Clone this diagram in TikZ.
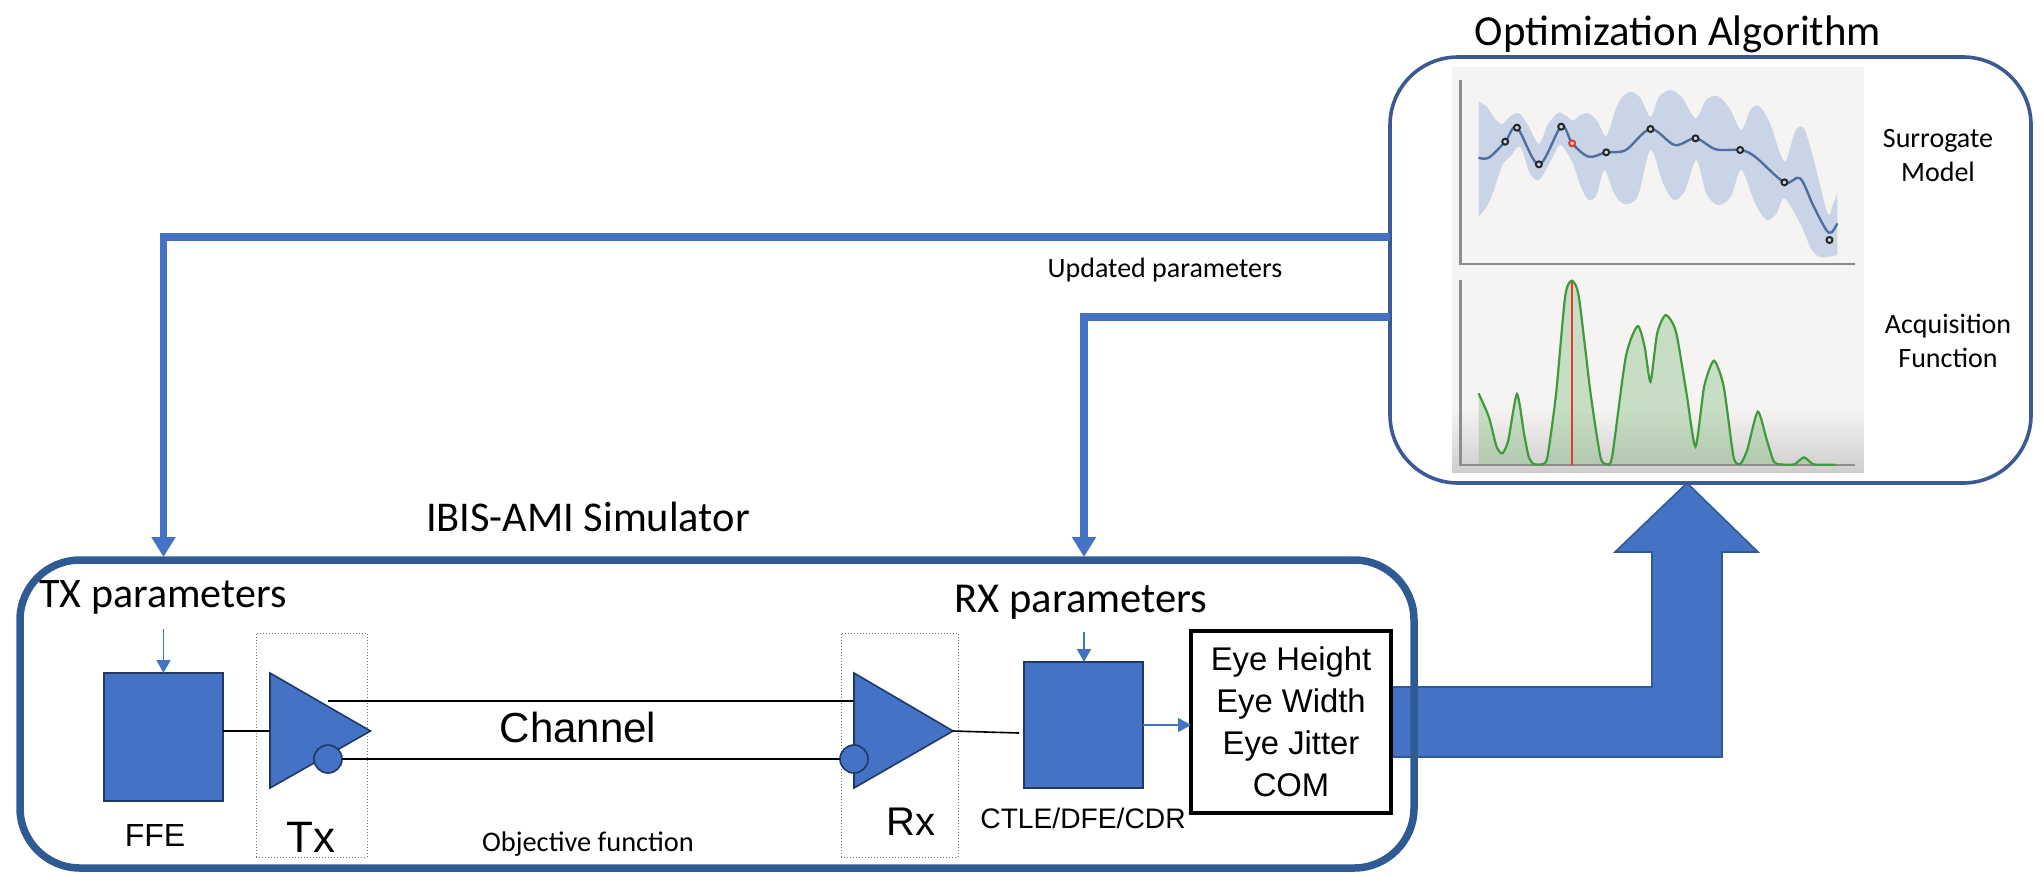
\documentclass[tikz,border=0pt]{standalone}
\usepackage{fontspec}
\setmainfont{Carlito}
\newfontfamily\arialf{Liberation Sans}
\usetikzlibrary{arrows.meta}
\definecolor{mblue}{HTML}{4472C4}
\definecolor{simedge}{HTML}{2F5A93}
\definecolor{optedge}{HTML}{3A5A94}
\definecolor{darkedge}{HTML}{1F3864}
\definecolor{panelbg}{HTML}{F5F4F3}
\definecolor{panelend}{HTML}{CFCECD}
\definecolor{axisgray}{HTML}{8C8C8C}
\definecolor{bandblue}{HTML}{C9D5E6}
\definecolor{meanblue}{HTML}{4F6F9F}
\definecolor{curvegreen}{HTML}{3E9A3C}
\definecolor{fillgreen}{HTML}{7DBB7A}
\definecolor{markred}{HTML}{E23B2E}
\def\acqcurve{(124,400) (150,470) (170,560) (185,580) (200,540) (222,402) (240,520) (252,590) (265,612) (288,612) (300,590) (322,400) (345,110) (362,62) (380,110) (410,400) (435,590) (450,612) (465,590) (500,290) (530,198) (548,260) (563,365) (580,220) (602,165) (628,215) (655,400) (678,560) (700,380) (725,302) (750,380) (775,590) (792,612) (810,570) (837,455) (860,540) (878,605) (895,613) (930,613) (955,592) (980,613) (1035,614)}
\tikzset{
  x=0.5pt,y=-0.5pt,
  lab/.style={inner sep=0pt,outer sep=0pt,anchor=base,text=black},
  cal/.style={lab,font=\fontsize{#1}{#1}\selectfont},
  ari/.style={lab,font=\arialf\fontsize{#1}{#1}\selectfont},
  bigbox/.style={draw=simedge,line width=3.75pt,rounded corners=30pt,inner sep=0pt,outer sep=0pt,anchor=north west},
  optbox/.style={draw=optedge,line width=1.8pt,rounded corners=34pt,inner sep=0pt,outer sep=0pt,anchor=north west},
  block/.style={draw=darkedge,line width=1pt,fill=mblue,inner sep=0pt,outer sep=0pt,anchor=north west},
  dotbox/.style={draw=black!55,line width=0.5pt,densely dotted,inner sep=0pt,outer sep=0pt,anchor=north west},
  amp/.style={draw=darkedge,line width=0.8pt,fill=mblue,line join=miter},
  bubble/.style={circle,draw=darkedge,line width=0.8pt,fill=mblue,minimum size=14pt,inner sep=0pt,outer sep=0pt},
  feed/.style={draw=mblue,line width=3.75pt,-{Triangle[width=11.5pt,length=10pt]}},
  thinarrow/.style={draw=mblue,line width=0.8pt,-{Triangle[width=7pt,length=6.5pt]}},
  wire/.style={draw=black,line width=0.8pt},
  axisline/.style={draw=axisgray,line width=1.3pt},
  samplept/.style={draw=black!85,line width=1pt,fill=bandblue},
}
\begin{document}
\begin{tikzpicture}
\useasboundingbox (0,0) rectangle (2044,874);

% optimisation panel background
\node[optbox,fill=white,minimum width=320.5pt,minimum height=213pt] (opt) at (1390,57) {};
\node[inner sep=0pt,outer sep=0pt,anchor=north west,fill=panelbg,minimum width=206pt,minimum height=203pt] (panel) at (1452,67) {};
\foreach \i in {0,...,31} {
  \pgfmathsetmacro{\pct}{100*(\i+1)/32}
  \pgfmathsetmacro{\ytop}{410+2*\i}
  \fill[panelend!\pct!panelbg] (1452,\ytop) rectangle (1864,473);
}

% surrogate plot, in crop coordinates
\begin{scope}[shift={(1430,50)},x=0.1958pt,y=-0.16667pt]
  \fill[bandblue] plot[smooth,tension=0.5] coordinates {(124,155) (145,170) (165,205) (185,222) (205,198) (228,190) (250,225) (278,282) (300,225) (328,188) (348,198) (365,212) (385,195) (405,190) (428,215) (450,258) (475,175) (492,140) (515,125) (538,145) (563,200) (585,140) (615,120) (645,145) (678,205) (705,150) (735,138) (765,175) (795,240) (818,180) (840,168) (868,220) (905,335) (932,245) (955,235) (980,330) (1015,490) (1030,460) (1040,430)}
    -- plot[smooth,tension=0.5] coordinates {(1040,615) (1000,622) (975,600) (945,520) (905,445) (885,490) (860,510) (830,460) (795,360) (768,440) (735,465) (705,430) (680,330) (650,425) (622,450) (595,400) (563,300) (530,440) (495,462) (470,430) (445,360) (425,435) (405,450) (385,410) (365,340) (345,300) (330,285) (305,340) (278,390) (255,370) (230,290) (205,320) (185,345) (160,430) (145,470) (124,500)} -- cycle;
  \draw[meanblue,line width=1.2pt] plot[smooth,tension=0.55] coordinates {(124,323) (150,323) (192,275) (222,233) (278,343) (335,230) (363,280) (405,320) (450,307) (500,300) (563,237) (625,285) (678,265) (730,298) (792,300) (830,320) (905,397) (945,385) (980,470) (1018,548) (1040,520)};
  \foreach \px/\py in {192/275,222/233,278/343,335/230,450/307,563/237,678/265,792/300,905/397,1020/570}
    \draw[samplept] (\px,\py) circle[radius=1.5pt];
  \draw[markred,line width=1pt,fill=bandblue] (363,280) circle[radius=1.5pt];
\end{scope}
\draw[axisline] (1460.5,80) -- (1460.5,264) -- (1855,264);

% acquisition plot, in crop coordinates
\begin{scope}[shift={(1430,260)},x=0.1958pt,y=-0.16667pt]
  \fill[fillgreen,opacity=0.38] plot[smooth,tension=0.4] coordinates \acqcurve -- (1035,615) -- (124,615) -- cycle;
  \draw[axisline] (78,60) -- (78,615) -- (1085,615);
  \draw[curvegreen,line width=1.1pt] plot[smooth,tension=0.4] coordinates \acqcurve;
  \draw[markred,line width=1.1pt] (362,66) -- (362,615);
\end{scope}

% blocks and big output arrow
\node[block,minimum width=59.5pt,minimum height=63pt] (ctle) at (1024,662) {};
\node[block,minimum width=59.5pt,minimum height=64pt] (ffe) at (104,673) {};
\coordinate (bigtip) at (1687,483);
\filldraw[fill=mblue,draw=simedge,line width=0.8pt,line join=miter]
  (1390,687) -- (1652,687) -- (1652,552) -- (1615,552) -- (bigtip) -- (1758,552) -- (1722,552) -- (1722,757) -- (1390,757) -- cycle;

% simulator frame
\node[bigbox,minimum width=697pt,minimum height=154pt] (sim) at (20,560) {};

% labels
\node[cal=21.4] (tOpt) at (1678,45) {Optimization Algorithm};
\node[cal=21.2] (tSim) at (588,531) {IBIS-AMI Simulator};
\node[cal=14] (tUpd) at (1165,277) {Updated parameters};
\node[cal=14] (tSur) at (1938,147) {Surrogate};
\node[cal=14] (tMod) at (1938,181) {Model};
\node[cal=14] (tAcq) at (1948,333) {Acquisition};
\node[cal=14] (tFun) at (1948,367) {Function};
\node[cal=21] (tTx) at (163,607) {TX parameters};
\node[cal=21.3] (tRx) at (1081,612) {RX parameters};
\node[cal=14.2] (tObj) at (588,851) {Objective function};
\node[ari=21] (tCh) at (578,742) {Channel};
\node[ari=16] (tFFE) at (155,846) {FFE};
\node[ari=22] (tTxs) at (311,852) {Tx};
\node[ari=20] (tRxs) at (911,835) {Rx};
\node[ari=14.1] (tCt) at (1083,828) {CTLE/DFE/CDR};

% dotted device frames
\node[dotbox,minimum width=55.5pt,minimum height=112pt] (txframe) at (256,633) {};
\node[dotbox,minimum width=58.5pt,minimum height=112pt] (rxframe) at (841,633) {};

% amplifiers
\coordinate (txtl) at (270,673);
\coordinate (txbl) at (270,788);
\coordinate (txtip) at (370.5,731);
\coordinate (rxtl) at (854,673);
\coordinate (rxbl) at (854,788);
\coordinate (rxtip) at (953,731);
\coordinate (chTop) at (328,701);
\coordinate (rxTop) at (854,701);
\draw[wire] (chTop) -- (rxTop);
\draw[amp] (txtl) -- (txtip) -- (txbl) -- cycle;
\draw[amp] (rxtl) -- (rxtip) -- (rxbl) -- cycle;
\node[bubble] (txb) at (328,759) {};
\node[bubble] (rxb) at (854,759) {};
\draw[wire] (txb) -- (rxb);
\coordinate (txin) at (270,731);
\draw[wire] (ffe.east |- txin) -- (txin);
\coordinate (ctlein) at (1019,733);
\draw[wire] (rxtip) -- (ctlein);

% result box
\node[draw=black,line width=1.8pt,fill=none,inner sep=0pt,outer sep=0pt,anchor=north west,minimum width=100pt,minimum height=91pt,align=center,font=\arialf\fontsize{16.4}{21}\selectfont] (eye) at (1191,631) {Eye Height\\Eye Width\\Eye Jitter\\COM};

% connectors
\coordinate (fb1) at (1390,237);
\coordinate (fb2) at (1390,317);
\coordinate (txdrop) at (163.5,557);
\coordinate (rxdrop) at (1084,557);
\draw[feed] (fb1) -| (txdrop);
\draw[feed] (fb2) -| (rxdrop);
\coordinate (txpar) at (163.5,629);
\coordinate (rxpar) at (1084,632);
\draw[thinarrow] (txpar) -- (txpar |- ffe.north);
\draw[thinarrow] (rxpar) -- (rxpar |- ctle.north);
\coordinate (ctleout) at (1143,725);
\draw[thinarrow] (ctleout) -- (ctleout -| eye.west);
\end{tikzpicture}
\end{document}
